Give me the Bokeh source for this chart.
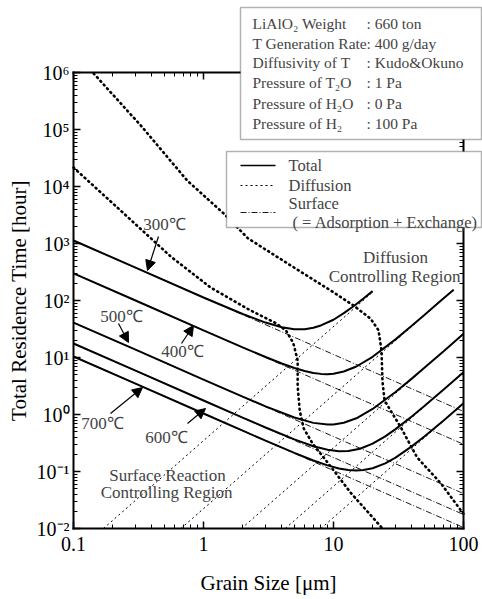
from bokeh.plotting import figure
from bokeh.models import LogAxis, FixedTicker, BoxAnnotation, Label, Arrow, NormalHead, Range1d
from bokeh.embed import file_html
from bokeh.resources import INLINE

# ---------------- data ----------------
# Total residence time curves (solid), one per temperature
grain_300 = [0.1, 0.3, 1, 2, 3, 4, 5, 6, 7, 8, 10, 12, 14, 17, 20]
total_300 = [1130, 377, 113, 58, 41, 34, 31.4, 31.4, 33.3, 36.5, 46, 60, 77, 108, 146]

grain_400 = [0.1, 0.3, 1, 2, 3, 4, 5, 6, 7, 8, 9, 10, 12, 15, 20, 30, 40, 50, 60, 70, 84]
total_400 = [300, 100, 30, 15.1, 10.2, 7.85, 6.55, 5.8, 5.36, 5.16, 5.1, 5.2, 5.67, 6.95,
             10.3, 20.8, 36, 55.6, 80, 108, 155]

grain_500 = [0.1, 0.3, 1, 2, 3, 5, 7, 9, 10, 12, 15, 20, 30, 40, 50, 70, 100]
total_500 = [41, 13.7, 4.1, 2.06, 1.39, 0.885, 0.713, 0.666, 0.67, 0.716, 0.858, 1.25,
             2.48, 4.26, 6.58, 12.8, 26]

grain_600 = [0.1, 0.3, 1, 2, 3, 5, 7, 9, 11, 13, 16, 20, 25, 30, 40, 50, 70, 100]
total_600 = [17.6, 5.87, 1.76, 0.882, 0.592, 0.366, 0.278, 0.24, 0.227, 0.228, 0.251,
             0.308, 0.414, 0.554, 0.924, 1.41, 2.72, 5.52]

grain_700 = [0.1, 0.3, 1, 2, 3, 5, 7, 9, 11, 13, 15, 17, 20, 25, 30, 40, 50, 70, 100]
total_700 = [10.4, 3.47, 1.04, 0.521, 0.348, 0.212, 0.156, 0.128, 0.113, 0.106, 0.104,
             0.106, 0.114, 0.139, 0.175, 0.276, 0.411, 0.779, 1.57]

# Surface (adsorption + exchange) lines, dash-dot
surface_grain = [0.1, 100]
surface_300 = [1130, 1.13]
surface_400 = [300, 0.30]
surface_500 = [41, 0.041]
surface_600 = [17.6, 0.0176]
surface_700 = [10.4, 0.0104]

# Diffusion lines, dotted
diff_grain_300 = [0.17, 19.5]
diff_300 = [0.01, 133]
diff_grain_400 = [0.67, 84]
diff_400 = [0.01, 155]
diff_grain_500 = [1.96, 100]
diff_500 = [0.01, 26]
diff_grain_600 = [4.26, 100]
diff_600 = [0.01, 5.5]
diff_grain_700 = [8.0, 100]
diff_700 = [0.01, 1.56]

# Region boundaries (heavy dotted)
bound_left_x = [0.1, 0.23, 0.56, 1.13, 2.3, 3.6, 4.3, 4.9, 5.3, 5.3, 5.5, 5.9, 6.9, 9.0, 13.5, 23.8]
bound_left_y = [21500, 3800, 590, 170, 67, 40, 30, 18, 8.9, 3.2, 1.17, 0.57, 0.31, 0.144, 0.043, 0.01]
bound_right_x = [0.143, 0.33, 0.75, 1.43, 2.2, 4.7, 9.5, 14.2, 19.3, 22.2, 23.4, 23.8, 24.7,
                 33, 44, 67, 90, 100]
bound_right_y = [9.6e5, 1.17e5, 12700, 3360, 1230, 410, 150, 82, 48, 30, 13.3, 3.9, 1.76,
                 0.59, 0.176, 0.062, 0.025, 0.018]

temperature_labels = ["300℃", "400℃", "500℃", "600℃", "700℃"]
x_tick_values = [0.1, 1, 10, 100]
x_tick_labels = ["0.1", "1", "10", "100"]
y_tick_values = [1e-2, 1e-1, 1e0, 1e1, 1e2, 1e3, 1e4, 1e5, 1e6]
y_tick_labels = ["10⁻²", "10⁻¹", "10⁰", "10¹", "10²", "10³", "10⁴", "10⁵", "10⁶"]

info_names = ["LiAlO₂ Weight", "T Generation Rate", "Diffusivity of T",
              "Pressure of T₂O", "Pressure of H₂O", "Pressure of H₂"]
info_values = [": 660 ton", ": 400 g/day", ": Kudo&Okuno", ": 1 Pa", ": 0 Pa", ": 100 Pa"]
legend_texts = ["Total", "Diffusion", "Surface", "( = Adsorption + Exchange)"]

# ---------------- layout ----------------
W, H = 482, 599
FL, FR, FT, FB = 73, 463, 72, 528   # plot-box edges in page pixels
FONT = "Liberation Serif"


def px_x(px):
    return 10 ** ((px - FL) / ((FR - FL) / 3.0) - 1)


def px_y(py):
    return 10 ** (6 - (py - FT) / ((FB - FT) / 8.0))


# the frame spans the whole canvas; the axes are pinned to the 0.1-100 / 1e-2-1e6 box
p = figure(width=W, height=H, x_axis_type="log", y_axis_type="log",
           x_range=Range1d(px_x(0), px_x(W)), y_range=Range1d(px_y(H), px_y(0)),
           output_backend="svg", toolbar_location=None, min_border=0)
p.xgrid.visible = False
p.ygrid.visible = False
p.outline_line_color = None
p.background_fill_color = "white"
p.border_fill_color = "white"

x_minor = [m * 10 ** e for e in range(-1, 2) for m in range(2, 10)]
y_minor = [m * 10 ** e for e in range(-2, 6) for m in range(2, 10)]


def style_axis(ax, show_labels):
    ax.axis_line_color = "black"
    ax.axis_line_width = 2
    ax.axis_line_cap = "square"
    ax.major_tick_in = 7
    ax.major_tick_out = 0
    ax.minor_tick_in = 4
    ax.minor_tick_out = 0
    ax.major_tick_line_width = 1.5
    ax.minor_tick_line_width = 1
    ax.major_label_text_font = FONT
    ax.axis_label_text_font = FONT
    ax.axis_label_text_font_style = "normal"
    ax.axis_label_text_color = "black"
    ax.major_label_text_color = "black"
    if not show_labels:
        ax.major_label_text_font_size = "1px"
        ax.major_label_text_color = None
        ax.major_label_standoff = 0


xa = p.xaxis[0]
xa.ticker = FixedTicker(ticks=x_tick_values, minor_ticks=x_minor)
xa.major_label_overrides = dict(zip(x_tick_values, x_tick_labels))
xa.fixed_location = y_tick_values[0]
xa.bounds = (x_tick_values[0], x_tick_values[-1])
style_axis(xa, True)
xa.major_label_text_font_size = "20px"
xa.major_label_standoff = 8
xa.axis_label = "Grain Size [μm]"
xa.axis_label_text_font_size = "21px"
xa.axis_label_standoff = 17

ya = p.yaxis[0]
ya.ticker = FixedTicker(ticks=y_tick_values, minor_ticks=y_minor)
ya.major_label_overrides = dict(zip(y_tick_values, y_tick_labels))
ya.fixed_location = x_tick_values[0]
ya.bounds = (y_tick_values[0], y_tick_values[-1])
style_axis(ya, True)
ya.major_label_text_font_size = "20px"
ya.major_label_standoff = 4
ya.axis_label = "Total Residence Time [hour]"
ya.axis_label_text_font_size = "21px"
ya.axis_label_standoff = 3

top_ax = LogAxis(ticker=FixedTicker(ticks=x_tick_values, minor_ticks=x_minor),
                 fixed_location=y_tick_values[-1], bounds=(x_tick_values[0], x_tick_values[-1]))
style_axis(top_ax, False)
p.add_layout(top_ax, "above")
right_ax = LogAxis(ticker=FixedTicker(ticks=y_tick_values, minor_ticks=y_minor),
                   fixed_location=x_tick_values[-1], bounds=(y_tick_values[0], y_tick_values[-1]))
style_axis(right_ax, False)
p.add_layout(right_ax, "right")

# ---------------- curves ----------------
SURF_DASH = "6 2 1 2"
DIFF_DASH = "2 3"
for s in [surface_300, surface_400, surface_500, surface_600, surface_700]:
    p.line(surface_grain, s, line_color="black", line_width=0.9, line_dash=SURF_DASH)

for gx, gy in [(diff_grain_300, diff_300), (diff_grain_400, diff_400), (diff_grain_500, diff_500),
               (diff_grain_600, diff_600), (diff_grain_700, diff_700)]:
    p.line(gx, gy, line_color="black", line_width=1, line_dash=DIFF_DASH)

for gx, gy in [(grain_300, total_300), (grain_400, total_400), (grain_500, total_500),
               (grain_600, total_600), (grain_700, total_700)]:
    p.line(gx, gy, line_color="black", line_width=2)

for bx, by in [(bound_left_x, bound_left_y), (bound_right_x, bound_right_y)]:
    p.line(bx, by, line_color="black", line_width=2.6, line_dash="1 4", line_cap="round")

# ---------------- arrows and labels ----------------
arrows = [((158, 236), (147, 270)), ((181, 343), (193, 325)), ((118, 323), (128, 342)),
          ((187, 423), (205, 408)), ((110, 413), (142, 387))]
for (sx, sy), (ex, ey) in arrows:
    p.add_layout(Arrow(end=NormalHead(size=10, fill_color="black", line_color="black"),
                       x_start=px_x(sx), y_start=px_y(sy), x_end=px_x(ex), y_end=px_y(ey),
                       line_color="black", line_width=1.2))

temp_pos = [(164, 224), (182, 351), (121, 316), (166, 437), (102, 423)]
for t, (tx, ty) in zip(temperature_labels, temp_pos):
    p.add_layout(Label(x=px_x(tx), y=px_y(ty), text=t, text_align="center",
                       text_baseline="middle", text_font=FONT, text_font_size="17px"))

for txt, (tx, ty) in [("Surface Reaction", (167, 475)), ("Controlling Region", (166, 492)),
                      ("Diffusion", (395, 257)), ("Controlling Region", (394, 276))]:
    p.add_layout(Label(x=px_x(tx), y=px_y(ty), text=txt, text_align="center",
                       text_baseline="middle", text_font=FONT, text_font_size="17px"))

# ---------------- info box ----------------
BOX_R = 481
p.add_layout(BoxAnnotation(left=px_x(240), right=px_x(BOX_R), top=px_y(7), bottom=px_y(139),
                           fill_color="white", fill_alpha=1.0, line_color="black", line_width=1.5))
row_y = [23, 43, 62, 82, 103, 123]
for name, val, ry in zip(info_names, info_values, row_y):
    p.add_layout(Label(x=px_x(252), y=px_y(ry), text=name, text_align="left",
                       text_baseline="middle", text_font=FONT, text_font_size="15.5px"))
    p.add_layout(Label(x=px_x(366), y=px_y(ry), text=val, text_align="left",
                       text_baseline="middle", text_font=FONT, text_font_size="15.5px"))

# ---------------- legend box ----------------
p.add_layout(BoxAnnotation(left=px_x(226), right=px_x(BOX_R), top=px_y(151), bottom=px_y(227),
                           fill_color="white", fill_alpha=1.0, line_color="black", line_width=1.5))
leg_y = [165, 185, 203, 222]
for txt, ly in zip(legend_texts, leg_y):
    lx = 292 if txt.startswith("(") else 288
    p.add_layout(Label(x=px_x(lx), y=px_y(ly), text=txt, text_align="left",
                       text_baseline="middle", text_font=FONT, text_font_size="16.5px"))

sample_x = [px_x(240), px_x(275)]
p.line(sample_x, [px_y(165)] * 2, line_color="black", line_width=1.5, level="overlay")
p.line(sample_x, [px_y(185)] * 2, line_color="black", line_width=1, line_dash=DIFF_DASH,
       level="overlay")
p.line(sample_x, [px_y(212)] * 2, line_color="black", line_width=0.9, line_dash=SURF_DASH,
       level="overlay")

open("out.html", "w").write(file_html(p, INLINE))
